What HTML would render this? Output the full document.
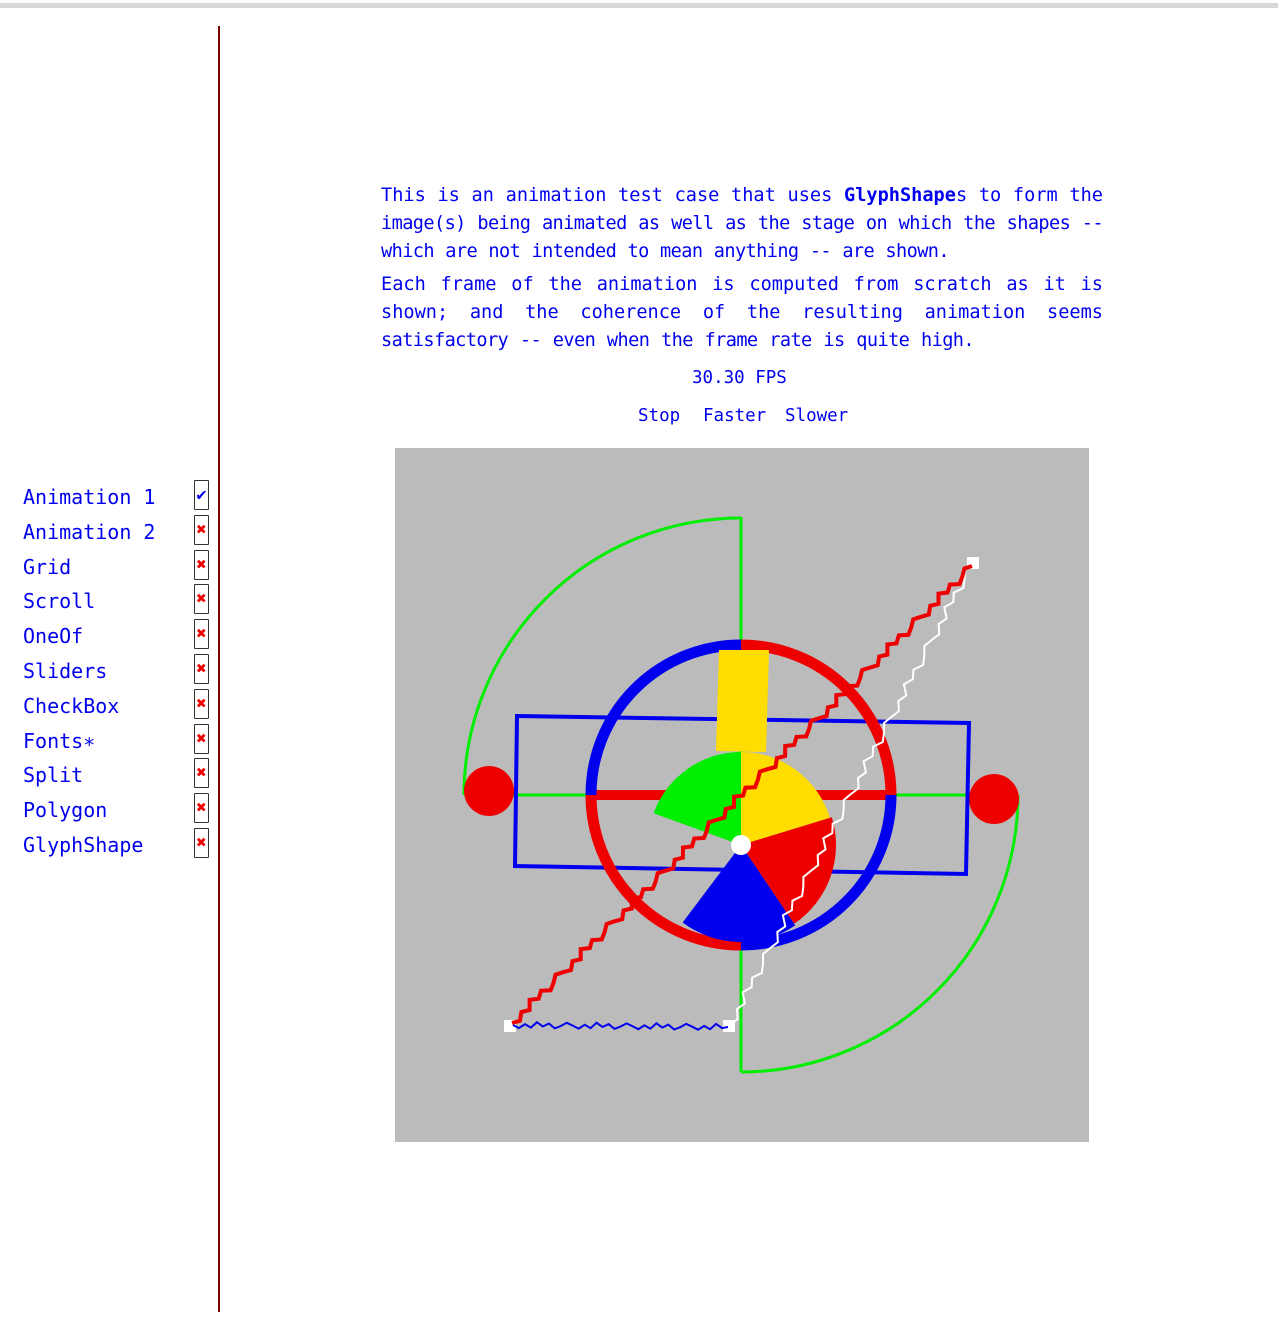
<!DOCTYPE html>
<html><head><meta charset="utf-8">
<style>
html,body{margin:0;padding:0;background:#fff;width:1278px;height:1326px;overflow:hidden;position:relative;font-family:"DejaVu Sans Mono","Liberation Mono",monospace;color:#0000ee}
.topbar{position:absolute;left:0;top:3px;width:1278px;height:5px;background:#d8d8d8}
.divider{position:absolute;left:218px;top:26px;width:2px;height:1286px;background:#7a0000}
.side{position:absolute;left:23px;font-size:20px;line-height:24px}
.cb{position:absolute;left:194px;width:13px;height:28px;border:1px solid #333;border-radius:1px;font-size:17px;text-align:center;line-height:28px;font-weight:bold}
.txt{position:absolute;left:381px;width:722px;font-size:18.6px;line-height:28px}
.ln{display:block;text-align:justify;text-align-last:justify;white-space:nowrap;height:28px}
.c{letter-spacing:-0.6px;word-spacing:-4px}
.ctr{position:absolute;font-size:17.5px;white-space:pre}
</style></head><body>
<div class="topbar"></div>
<div class="divider"></div>

<div>
<div class="side" style="top:485px">Animation 1</div>
<div class="side" style="top:520px">Animation 2</div>
<div class="side" style="top:555px">Grid</div>
<div class="side" style="top:589px">Scroll</div>
<div class="side" style="top:624px">OneOf</div>
<div class="side" style="top:659px">Sliders</div>
<div class="side" style="top:694px">CheckBox</div>
<div class="side" style="top:729px">Fonts∗</div>
<div class="side" style="top:763px">Split</div>
<div class="side" style="top:798px">Polygon</div>
<div class="side" style="top:833px">GlyphShape</div>
<div class="cb" style="top:480px;color:#0000ee">✔</div>
<div class="cb" style="top:515px;color:#ee0000">✖</div>
<div class="cb" style="top:550px;color:#ee0000">✖</div>
<div class="cb" style="top:584px;color:#ee0000">✖</div>
<div class="cb" style="top:619px;color:#ee0000">✖</div>
<div class="cb" style="top:654px;color:#ee0000">✖</div>
<div class="cb" style="top:689px;color:#ee0000">✖</div>
<div class="cb" style="top:724px;color:#ee0000">✖</div>
<div class="cb" style="top:758px;color:#ee0000">✖</div>
<div class="cb" style="top:793px;color:#ee0000">✖</div>
<div class="cb" style="top:828px;color:#ee0000">✖</div>
</div>

<div class="txt" style="top:182px">
<span class="ln">This is an animation test case that uses <b>GlyphShape</b>s to form the</span>
<span class="ln c">image(s) being animated as well as the stage on which the shapes --</span>
<span class="ln c" style="width:568px">which are not intended to mean anything -- are shown.</span>
</div>
<div class="txt" style="top:271px">
<span class="ln">Each frame of the animation is computed from scratch as it is</span>
<span class="ln">shown; and the coherence of the resulting animation seems</span>
<span class="ln c" style="width:593px">satisfactory -- even when the frame rate is quite high.</span>
</div>
<div class="ctr" style="left:692px;top:368px">30.30 FPS</div>
<div class="ctr" style="left:638px;top:406px">Stop</div>
<div class="ctr" style="left:703px;top:406px">Faster</div>
<div class="ctr" style="left:785px;top:406px">Slower</div>

<svg id="stage" style="position:absolute;left:0;top:0" width="1278" height="1326">
<rect x="395" y="448" width="694" height="694" fill="#bbbbbb"/>
<g fill="none" stroke="#00ee00" stroke-width="3">
<line x1="490" y1="795" x2="995" y2="795"/>
<line x1="741" y1="517" x2="741" y2="1072"/>
<path d="M741 518 A277 277 0 0 0 464 795"/>
<path d="M1018 795 A277 277 0 0 1 741 1072"/>
</g>
<circle cx="489" cy="791" r="25" fill="#ee0000"/>
<circle cx="994" cy="799" r="25" fill="#ee0000"/>
<polygon points="517,716 969,723 966,874 515,866" fill="none" stroke="#0000ee" stroke-width="4"/>
<rect x="596" y="790" width="290" height="10" fill="#ee0000"/>
<g fill="none" stroke-width="11">
<path d="M741 645 A150 150 0 0 0 591 795" stroke="#0000ee"/>
<path d="M741 645 A150 150 0 0 1 891 795" stroke="#ee0000"/>
<path d="M591 795 A150 150 0 0 0 741 945" stroke="#ee0000"/>
<path d="M891 795 A150 150 0 0 1 741 945" stroke="#0000ee"/>
</g>
<polygon points="719,650 769,650 766,752 716,751" fill="#ffdd00"/>
<g id="pie"></g>
<circle cx="741" cy="845" r="10" fill="#fff"/>
<g id="lines"></g>
</svg>
<script>
const NS='http://www.w3.org/2000/svg';
const pie=document.getElementById('pie');
const cx=741,cy=845;
const slices=[[90,160,93,'#00ee00'],[17,90,93,'#ffdd00'],[-56,17,95,'#ee0000'],[-127,-56,97,'#0000ee']];
slices.forEach(s=>{
 const a0=s[0]*Math.PI/180,a1=s[1]*Math.PI/180,r=s[2];
 const x0=cx+r*Math.cos(a0),y0=cy-r*Math.sin(a0),x1=cx+r*Math.cos(a1),y1=cy-r*Math.sin(a1);
 const p=document.createElementNS(NS,'path');
 p.setAttribute('d',`M${cx} ${cy} L${x0} ${y0} A${r} ${r} 0 0 0 ${x1} ${y1} Z`);
 p.setAttribute('fill',s[3]);
 
 
 pie.appendChild(p);
});
const lines=document.getElementById('lines');
function wiggle(x0,y0,x1,y1,n,amp,color,w,name){
 const dx=x1-x0,dy=y1-y0,L=Math.hypot(dx,dy),nx=-dy/L,ny=dx/L;
 const pat=[0,1,-0.3,0.8,-1,0.4,-0.6,1,0.2,-0.9];
 let d='';
 for(let i=0;i<=n;i++){
  const t=i/n,o=(i===0||i===n)?0:pat[i%pat.length]*amp;
  d+=(i?'L':'M')+(x0+dx*t+nx*o).toFixed(1)+' '+(y0+dy*t+ny*o).toFixed(1);
 }
 const p=document.createElementNS(NS,'path');
 p.setAttribute('d',d);p.setAttribute('fill','none');p.setAttribute('stroke',color);p.setAttribute('stroke-width',w);
 
 
 lines.appendChild(p);
}
wiggle(730,1025,972,563,60,4,'#ffffff',2,'white-wavy-line');
wiggle(513,1025,728,1027,36,3,'#0000ee',2,'blue-wavy-line');
wiggle(512,1023,972,566,90,4,'#ee0000',4,'red-zigzag-line');
[[510,1026],[729,1026],[973,563]].forEach(c=>{
 const r=document.createElementNS(NS,'rect');
 r.setAttribute('x',c[0]-6);r.setAttribute('y',c[1]-6);r.setAttribute('width',12);r.setAttribute('height',12);r.setAttribute('fill','#fff');
 
 
 lines.insertBefore(r,lines.firstChild);
});
</script>
</body></html>
